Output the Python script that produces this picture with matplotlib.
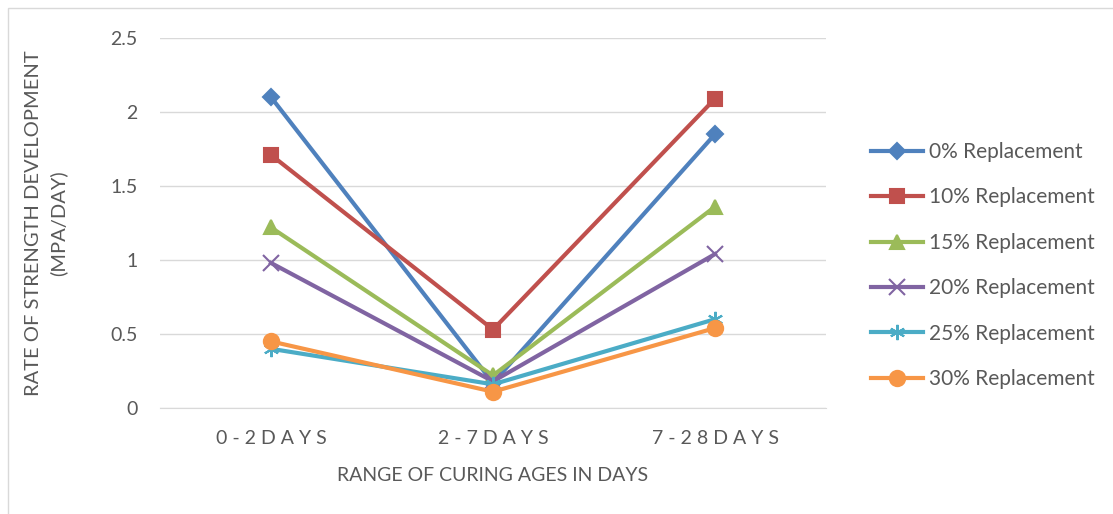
import matplotlib.pyplot as plt
from matplotlib.patches import Rectangle

plt.rcParams['font.family'] = ['Lato', 'DejaVu Sans']

# data
ages = ['0-2DAYS', '2-7DAYS', '7-28DAYS']
rep_0 = [2.10, 0.17, 1.85]
rep_10 = [1.71, 0.53, 2.09]
rep_15 = [1.22, 0.22, 1.36]
rep_20 = [0.98, 0.18, 1.04]
rep_25 = [0.40, 0.16, 0.60]
rep_30 = [0.45, 0.11, 0.54]

labels = ['0% Replacement', '10% Replacement', '15% Replacement',
          '20% Replacement', '25% Replacement', '30% Replacement']
series = [rep_0, rep_10, rep_15, rep_20, rep_25, rep_30]
colors = ['#4F81BD', '#C0504D', '#9BBB59', '#8064A2', '#4BACC6', '#F79646']
markers = ['D', 's', '^', 'x', (6, 2, 0), 'o']
msizes = [8, 10, 10, 11, 11, 11]

txt = '#595959'

fig = plt.figure(figsize=(11.13, 5.14), dpi=100)
fig.patches.append(Rectangle((0.007, -0.1), 1.1, 1.085, transform=fig.transFigure,
                             fill=False, edgecolor='#D9D9D9', linewidth=1))
ax = fig.add_axes([160/1113, 1-408/514, 666/1113, 370/514])

x = range(len(ages))
for vals, lab, c, m, ms in zip(series, labels, colors, markers, msizes):
    ax.plot(x, vals, color=c, lw=3, marker=m, ms=ms, mew=1.5, label=lab)

ax.set_xlim(-0.5, 2.5)
ax.set_ylim(0, 2.5)
ax.set_yticks([0, 0.5, 1, 1.5, 2, 2.5])
ax.set_yticklabels(['0', '0.5', '1', '1.5', '2', '2.5'])
ax.set_xticks(list(x))
ax.set_xticklabels([' '.join(a) for a in ages])
ax.grid(axis='y', color='#D9D9D9', lw=1)
ax.set_axisbelow(True)
for s in ['top', 'right', 'left']:
    ax.spines[s].set_visible(False)
ax.spines['bottom'].set_color('#D9D9D9')
ax.tick_params(length=0, labelsize=14, colors=txt)
ax.tick_params(axis='y', pad=16)
ax.tick_params(axis='x', pad=16)

ax.set_xlabel('RANGE OF CURING AGES IN DAYS', fontsize=14, color=txt, labelpad=14)
ax.set_ylabel('RATE OF STRENGTH DEVELOPMENT\n(MPA/DAY)', fontsize=14.5, color=txt,
              labelpad=31, linespacing=1.5)

ax.legend(loc='center left', bbox_to_anchor=(1.04, 0.385), frameon=False,
          fontsize=15, labelcolor=txt, handlelength=2.5, labelspacing=1.22,
          handletextpad=0.25)

fig.savefig('out.png', dpi=100)
